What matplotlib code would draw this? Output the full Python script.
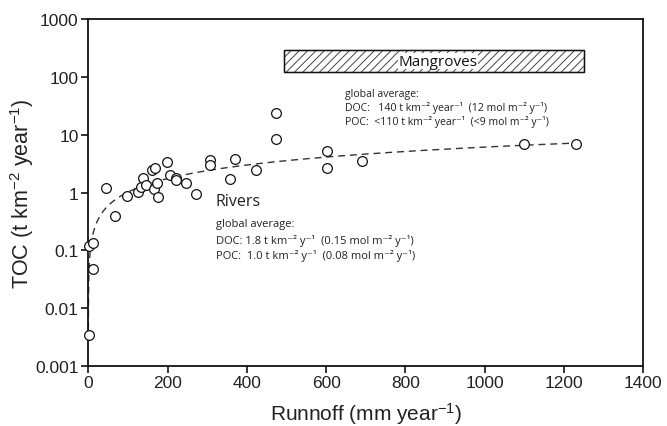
import numpy as np
import matplotlib
matplotlib.use("Agg")
import matplotlib.pyplot as plt
from matplotlib.patches import Rectangle
from matplotlib.ticker import FixedLocator, FixedFormatter, NullLocator

# ---- data ----
runoff = [2.5, 2.5, 12, 11, 45, 67, 97, 125, 133, 137, 146, 161, 168, 166, 173, 175,
          198, 207, 220, 222, 247, 271, 306, 308, 357, 370, 422, 474, 474, 603, 603,
          690, 1099, 1230]
toc = [0.0034, 0.118, 0.133, 0.047, 1.22, 0.39, 0.88, 1.02, 1.27, 1.77, 1.35, 2.51,
       2.71, 1.15, 1.44, 0.84, 3.34, 2.05, 1.79, 1.65, 1.48, 0.935, 3.69, 3.0, 1.72,
       3.81, 2.43, 23.5, 8.5, 5.29, 2.63, 3.48, 6.93, 6.93]

# power-law trend line parameters (TOC = a * runoff^b)
fit_a = 0.0281
fit_b = 0.78
fit_range = [0.05, 1230]

# Mangrove range box
mangrove_x = [494, 1250]
mangrove_y = [121, 300]

x_ticks = [0, 200, 400, 600, 800, 1000, 1200, 1400]
y_ticks = [0.001, 0.01, 0.1, 1, 10, 100, 1000]
y_tick_labels = ["0.001", "0.01", "0.1", "1", "10", "100", "1000"]

# ---- style ----
plt.rcParams['mathtext.fontset'] = 'custom'
plt.rcParams['mathtext.rm'] = 'Liberation Sans'
plt.rcParams['mathtext.it'] = 'Liberation Sans'
plt.rcParams['hatch.linewidth'] = 0.7
ann_font = ['Open Sans', 'DejaVu Sans']
axis_font = ['Liberation Sans', 'DejaVu Sans']

fig = plt.figure(figsize=(6.67, 4.27), dpi=100)
ax = fig.add_axes([0.1324, 0.1412, 0.8321, 0.8108])

# trend line
xf = np.geomspace(fit_range[0], fit_range[1], 400)
ax.plot(xf, fit_a * xf ** fit_b, linestyle=(0, (5, 3.5)), color='#333333', lw=1.0, zorder=2)

# points
ax.plot(runoff, toc, linestyle='none', marker='o', markersize=7,
        markerfacecolor='white', markeredgecolor='#111111', markeredgewidth=0.9,
        clip_on=False, zorder=3)

# mangrove box
ax.add_patch(Rectangle((mangrove_x[0], mangrove_y[0]), mangrove_x[1] - mangrove_x[0],
                       mangrove_y[1] - mangrove_y[0], facecolor='white',
                       edgecolor='#444444', hatch='////', lw=0.9, zorder=2))
ax.add_patch(Rectangle((mangrove_x[0], mangrove_y[0]), mangrove_x[1] - mangrove_x[0],
                       mangrove_y[1] - mangrove_y[0], facecolor='none',
                       edgecolor='#111111', lw=1.0, zorder=2))
ax.text(np.mean(mangrove_x) + 10, np.sqrt(mangrove_y[0] * mangrove_y[1]), "Mangroves",
        family=ann_font, fontsize=11, color='#111111', ha='center', va='center',
        bbox=dict(facecolor='white', edgecolor='none', pad=0.5), zorder=4)

# annotations
tc = '#222222'
fs = 7.6
ax.text(648, 52, "global average:", family=ann_font, fontsize=fs, color=tc, va='center')
ax.text(648, 29.9, "DOC:   140 t km⁻² year⁻¹  (12 mol m⁻² y⁻¹)", family=ann_font,
        fontsize=fs, color=tc, va='center')
ax.text(648, 17.1, "POC:  <110 t km⁻² year⁻¹  (<9 mol m⁻² y⁻¹)", family=ann_font,
        fontsize=fs, color=tc, va='center')

fs2 = 8.0
ax.text(322, 0.707, "Rivers", family=ann_font, fontsize=11.5, color=tc, va='center')
ax.text(322, 0.294, "global average:", family=ann_font, fontsize=fs2, color=tc, va='center')
ax.text(322, 0.151, "DOC: 1.8 t km⁻² y⁻¹  (0.15 mol m⁻² y⁻¹)", family=ann_font,
        fontsize=fs2, color=tc, va='center')
ax.text(322, 0.083, "POC:  1.0 t km⁻² y⁻¹  (0.08 mol m⁻² y⁻¹)", family=ann_font,
        fontsize=fs2, color=tc, va='center')

# axes
ax.set_yscale('log')
ax.set_xlim(0, 1400)
ax.set_ylim(0.001, 1000)
ax.xaxis.set_major_locator(FixedLocator(x_ticks))
ax.yaxis.set_major_locator(FixedLocator(y_ticks))
ax.yaxis.set_major_formatter(FixedFormatter(y_tick_labels))
ax.yaxis.set_minor_locator(NullLocator())
ax.xaxis.set_minor_locator(NullLocator())
for s in ax.spines.values():
    s.set_linewidth(1.3)
    s.set_color('#111111')
ax.tick_params(direction='out', length=5, width=1.2, labelsize=12.5, color='#111111',
               labelcolor='#222222', pad=2)
for lab in ax.get_xticklabels() + ax.get_yticklabels():
    lab.set_family(axis_font)

ax.set_xlabel("Runnoff (mm year$^{-1}$)", family=axis_font, fontsize=15, color='#222222',
              labelpad=7)
ax.set_ylabel("TOC (t km$^{-2}$ year$^{-1}$)", family=axis_font, fontsize=15.5,
              color='#222222', labelpad=-1)

fig.savefig("out.png", dpi=100)
